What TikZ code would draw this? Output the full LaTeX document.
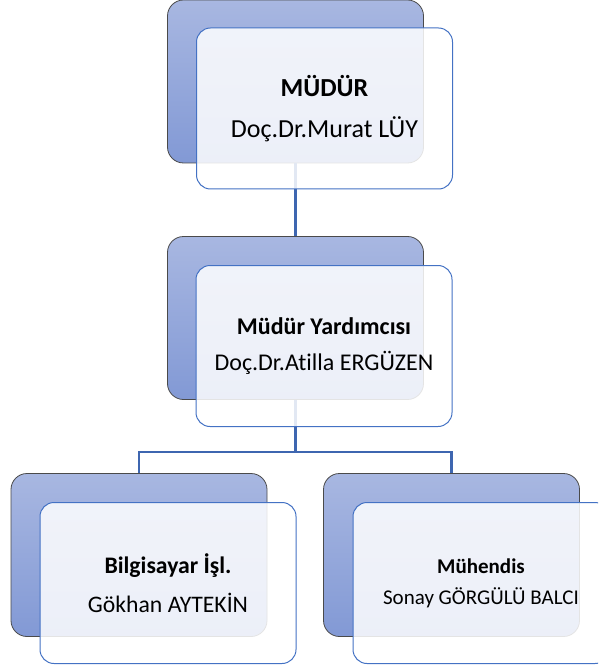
\documentclass[tikz,border=0pt]{standalone}
\usepackage{fontspec}
\setmainfont[RawFeature=-liga]{Carlito}
\definecolor{kutuust}{HTML}{A8B7E1}
\definecolor{kutualt}{HTML}{8299D5}
\definecolor{arkacizgi}{HTML}{4A4A4A}
\definecolor{onkenar}{HTML}{4472C4}
\definecolor{hat}{HTML}{3E66B0}
\begin{document}
\begin{tikzpicture}[x=1pt,y=-1pt,
                        arka/.style={draw=arkacizgi,line width=0.8pt,rounded corners=16pt,top color=kutuust,bottom color=kutualt,minimum width=256pt,minimum height=163pt,inner sep=0pt},
                        on/.style={draw=onkenar,line width=1pt,rounded corners=14pt,fill=white,fill opacity=0.85,text opacity=1,minimum width=256pt,minimum height=161pt,align=center,inner sep=0pt},
                        hatcizgi/.style={draw=hat,line width=2.4pt}]
                        \clip (0,0) rectangle (598,668);
                        \node[arka] (M) at (295.5,81.5) {};
                        \node[arka] (Y) at (295.5,318) {};
                        \node[arka] (B) at (139,555) {};
                        \node[arka] (E) at (451.5,555) {};
                        \coordinate (J) at (295.5,452);
                        \draw[hatcizgi] (M.south) -- (Y.north);
                        \draw[hatcizgi] (Y.south) -- (J) -| (B.north);
                        \draw[hatcizgi] (J) -| (E.north);
                        \node[on,font=\fontsize{26}{41}\selectfont] (Mf) at (324.5,108.5) {\textbf{MÜDÜR}\\Doç.Dr.Murat LÜY};
                        \node[on,font=\fontsize{24}{36}\selectfont] (Yf) at (324,346) {\textbf{Müdür Yardımcısı}\\Doç.Dr.Atilla ERGÜZEN};
                        \node[on,font=\fontsize{23.7}{39}\selectfont] (Bf) at (168,583) {\textbf{Bilgisayar İşl.}\\Gökhan AYTEKİN};
                        \node[on,font=\fontsize{21}{31}\selectfont] (Ef) at (481,583) {\textbf{Mühendis}\\Sonay GÖRGÜLÜ BALCI};
                    \end{tikzpicture}
\end{document}
